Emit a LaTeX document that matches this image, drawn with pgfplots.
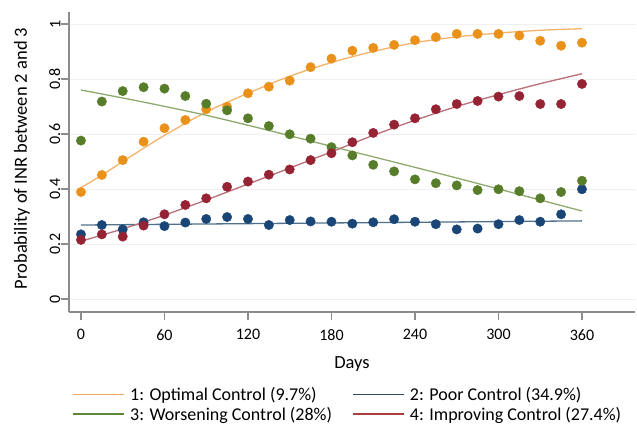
\documentclass[border=0pt]{standalone}
\usepackage{fontspec}
\setmainfont{Carlito}
\usepackage{pgfplots}
\usepackage{pgfplotstable}
\pgfplotsset{compat=1.18}
\definecolor{oraM}{RGB}{233,145,25}
\definecolor{oraL}{RGB}{245,178,105}
\definecolor{oraLeg}{RGB}{240,168,95}
\definecolor{grnM}{RGB}{88,125,42}
\definecolor{grnL}{RGB}{140,170,108}
\definecolor{grnLeg}{RGB}{95,135,60}
\definecolor{bluM}{RGB}{25,70,118}
\definecolor{bluL}{RGB}{80,112,140}
\definecolor{bluLeg}{RGB}{50,72,100}
\definecolor{redM}{RGB}{150,35,52}
\definecolor{redL}{RGB}{185,110,120}
\definecolor{redLeg}{RGB}{172,62,62}
\definecolor{axgray}{RGB}{140,140,140}

\pgfplotstableread{
d o b g r
0 0.389 0.235 0.576 0.215
15 0.451 0.269 0.718 0.235
30 0.505 0.253 0.756 0.227
45 0.572 0.279 0.770 0.267
60 0.621 0.265 0.765 0.308
75 0.651 0.278 0.738 0.342
90 0.690 0.291 0.710 0.366
105 0.699 0.298 0.686 0.408
120 0.748 0.291 0.657 0.427
135 0.772 0.269 0.629 0.452
150 0.794 0.287 0.599 0.471
165 0.843 0.282 0.583 0.505
180 0.874 0.281 0.552 0.530
195 0.903 0.274 0.522 0.570
210 0.913 0.279 0.488 0.604
225 0.924 0.290 0.464 0.634
240 0.941 0.281 0.435 0.657
255 0.952 0.272 0.421 0.690
270 0.964 0.253 0.413 0.709
285 0.964 0.256 0.396 0.720
300 0.964 0.272 0.399 0.736
315 0.958 0.287 0.392 0.738
330 0.939 0.281 0.366 0.709
345 0.921 0.308 0.389 0.709
360 0.932 0.399 0.430 0.782
}\pts

\begin{document}
\begin{tikzpicture}
\path[use as bounding box] (-69pt,-113pt) rectangle (568pt,312pt);
\begin{axis}[
  at={(0pt,0pt)}, anchor=south west,
  scale only axis, width=566pt, height=300pt,
  xmin=-8.6, xmax=398.1, ymin=-0.0473, ymax=1.0436,
  axis lines*=left,
  axis line style={draw=axgray, line width=1.3pt},
  xtick={0,60,...,360}, ytick={0,0.2,0.4,0.6,0.8,1},
  tick align=outside, major tick length=8pt,
  tick style={draw=axgray, line width=1.2pt},
  ymajorgrids, major grid style={draw=black!6, line width=0.8pt},
  /pgf/number format/assume math mode=true,
  tick label style={font=\fontsize{16}{19}\selectfont},
  xticklabel style={yshift=-6pt},
  yticklabel style={rotate=90, anchor=south, inner sep=0.5pt},
  xlabel={Days}, ylabel={Probability of INR between 2 and 3},
  label style={font=\fontsize{18.5}{22}\selectfont},
  xlabel style={at={(axis description cs:0.5,-0.1867)}, anchor=base},
  ylabel style={at={(axis description cs:-0.083,0.512)}, anchor=center},
  legend columns=2,
  legend cell align=left,
  legend style={draw=none, fill=none, at={(axis description cs:0.0053,-0.2433)}, anchor=north west,
    font=\fontsize{18}{22}\selectfont, inner sep=0pt, row sep=1pt,
    /tikz/every even column/.append style={column sep=18pt}},
  legend image code/.code={\draw[#1, line width=1.6pt] (0pt,0pt) -- (51pt,0pt); \path (55pt,0pt);},
]
\addlegendimage{oraLeg}
\addlegendentry{1: Optimal Control (9.7\%)}
\addlegendimage{bluLeg}
\addlegendentry{2: Poor Control (34.9\%)}
\addlegendimage{grnLeg}
\addlegendentry{3: Worsening Control (28\%)}
\addlegendimage{redLeg}
\addlegendentry{4: Improving Control (27.4\%)}

\addplot[only marks, mark=*, mark size=4.7pt, color=oraM, forget plot] table[x=d,y=o]{\pts};
\addplot[only marks, mark=*, mark size=4.7pt, color=bluM, forget plot] table[x=d,y=b]{\pts};
\addplot[only marks, mark=*, mark size=4.7pt, color=grnM, forget plot] table[x=d,y=g]{\pts};
\addplot[only marks, mark=*, mark size=4.7pt, color=redM, forget plot] table[x=d,y=r]{\pts};

\addplot[oraL, line width=1.3pt, smooth, forget plot] coordinates {(0,0.405)(15,0.45)(30,0.50)(45,0.548)(60,0.595)(90,0.68)(120,0.748)(150,0.81)(180,0.86)(210,0.90)(240,0.932)(270,0.953)(300,0.967)(330,0.977)(360,0.983)};
\addplot[bluL, line width=1.3pt, forget plot] coordinates {(0,0.269)(360,0.284)};
\addplot[grnL, line width=1.3pt, smooth, forget plot] coordinates {(0,0.760)(45,0.716)(90,0.668)(135,0.613)(180,0.555)(225,0.498)(270,0.44)(315,0.38)(360,0.32)};
\addplot[redL, line width=1.3pt, smooth, forget plot] coordinates {(0,0.21)(30,0.255)(60,0.305)(90,0.36)(120,0.418)(150,0.476)(180,0.535)(210,0.595)(240,0.650)(270,0.700)(300,0.743)(330,0.783)(360,0.819)};
\end{axis}
\end{tikzpicture}
\end{document}
